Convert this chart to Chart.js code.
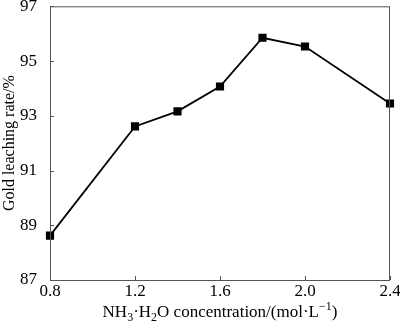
<!DOCTYPE html>
<html>
<head>
<meta charset="utf-8">
<script src="https://cdn.jsdelivr.net/npm/chart.js@4"></script>
<style>
  html, body { margin: 0; padding: 0; background: #fff; }
  #wrap { width: 400px; height: 322px; }
</style>
</head>
<body>
<div id="wrap"><canvas id="c"></canvas></div>
<script>
const concentration = [0.8, 1.2, 1.4, 1.6, 1.8, 2.0, 2.4];
const leachingRate = [88.62, 92.61, 93.16, 94.07, 95.85, 95.53, 93.45];
const xTicks = [0.8, 1.2, 1.6, 2.0, 2.4];
const yTicks = [87, 89, 91, 93, 95, 97];
const yTitle = "Gold leaching rate/%";
// x title pieces: [text, kind] kind: n normal, b subscript, p superscript
const xTitle = [["NH", "n"], ["3", "b"], ["·H", "n"], ["2", "b"], ["O concentration/(mol·L", "n"], ["−1", "p"], [")", "n"]];

const FONT = "'Liberation Serif', 'Times New Roman', serif";
const AXIS = "#555";

// frame, inward ticks and the x title with sub/superscripts
const frame = {
  id: "frame",
  afterDraw(chart) {
    const { ctx, chartArea: a, scales: { x, y } } = chart;
    ctx.save();
    ctx.strokeStyle = AXIS;
    ctx.lineWidth = 1;
    ctx.strokeRect(a.left + 0.5, a.top + 0.5, a.right - a.left - 1, a.bottom - a.top);
    ctx.beginPath();
    for (const v of xTicks) {
      const px = Math.round(x.getPixelForValue(v)) + 0.5;
      ctx.moveTo(px, a.bottom);
      ctx.lineTo(px, a.bottom - 4);
    }
    for (const v of yTicks) {
      const py = Math.round(y.getPixelForValue(v)) + 0.5;
      ctx.moveTo(a.left, py);
      ctx.lineTo(a.left + 4, py);
    }
    ctx.stroke();

    ctx.fillStyle = "#000";
    ctx.textBaseline = "alphabetic";
    const fontFor = k => (k === "n" ? "17px " : "12px ") + FONT;
    let total = 0;
    for (const [t, k] of xTitle) { ctx.font = fontFor(k); total += ctx.measureText(t).width; }
    let cx = (a.left + a.right) / 2 - total / 2;
    const base = 317;
    for (const [t, k] of xTitle) {
      ctx.font = fontFor(k);
      const dy = k === "b" ? 4 : k === "p" ? -7 : 0;
      ctx.fillText(t, cx, base + dy);
      cx += ctx.measureText(t).width;
    }
    ctx.restore();
  }
};

new Chart(document.getElementById("c"), {
  type: "line",
  data: {
    datasets: [{
      data: concentration.map((c, i) => ({ x: c, y: leachingRate[i] })),
      borderColor: "#000",
      backgroundColor: "#000",
      borderWidth: 1.8,
      pointStyle: "rect",
      pointRadius: 4.5,
      pointHoverRadius: 4.5,
      tension: 0,
      clip: false
    }]
  },
  options: {
    responsive: true,
    maintainAspectRatio: false,
    animation: false,
    devicePixelRatio: 1,
    layout: { padding: { top: 6, right: 10, left: 0, bottom: 0 } },
    plugins: { legend: { display: false }, tooltip: { enabled: false } },
    scales: {
      x: {
        type: "linear",
        min: 0.8,
        max: 2.4,
        afterBuildTicks: s => { s.ticks = xTicks.map(v => ({ value: v })); },
        afterFit: s => { s.height = 42; s.paddingLeft = 0; s.paddingRight = 0; },
        grid: { display: false, drawTicks: false },
        border: { display: false },
        ticks: {
          color: "#000",
          padding: 1,
          maxRotation: 0,
          font: { family: FONT, size: 17 },
          callback: v => Number(v).toFixed(1)
        }
      },
      y: {
        min: 87,
        max: 97,
        afterBuildTicks: s => { s.ticks = yTicks.map(v => ({ value: v })); },
        afterFit: s => { s.width = 50; s.paddingTop = 0; s.paddingBottom = 0; },
        grid: { display: false, drawTicks: false },
        border: { display: false },
        ticks: {
          color: "#000",
          padding: 13,
          font: { family: FONT, size: 17 }
        },
        title: {
          display: true,
          text: yTitle,
          color: "#000",
          padding: { top: 0, bottom: 0 },
          font: { family: FONT, size: 16 }
        }
      }
    }
  },
  plugins: [frame]
});
</script>
</body>
</html>
